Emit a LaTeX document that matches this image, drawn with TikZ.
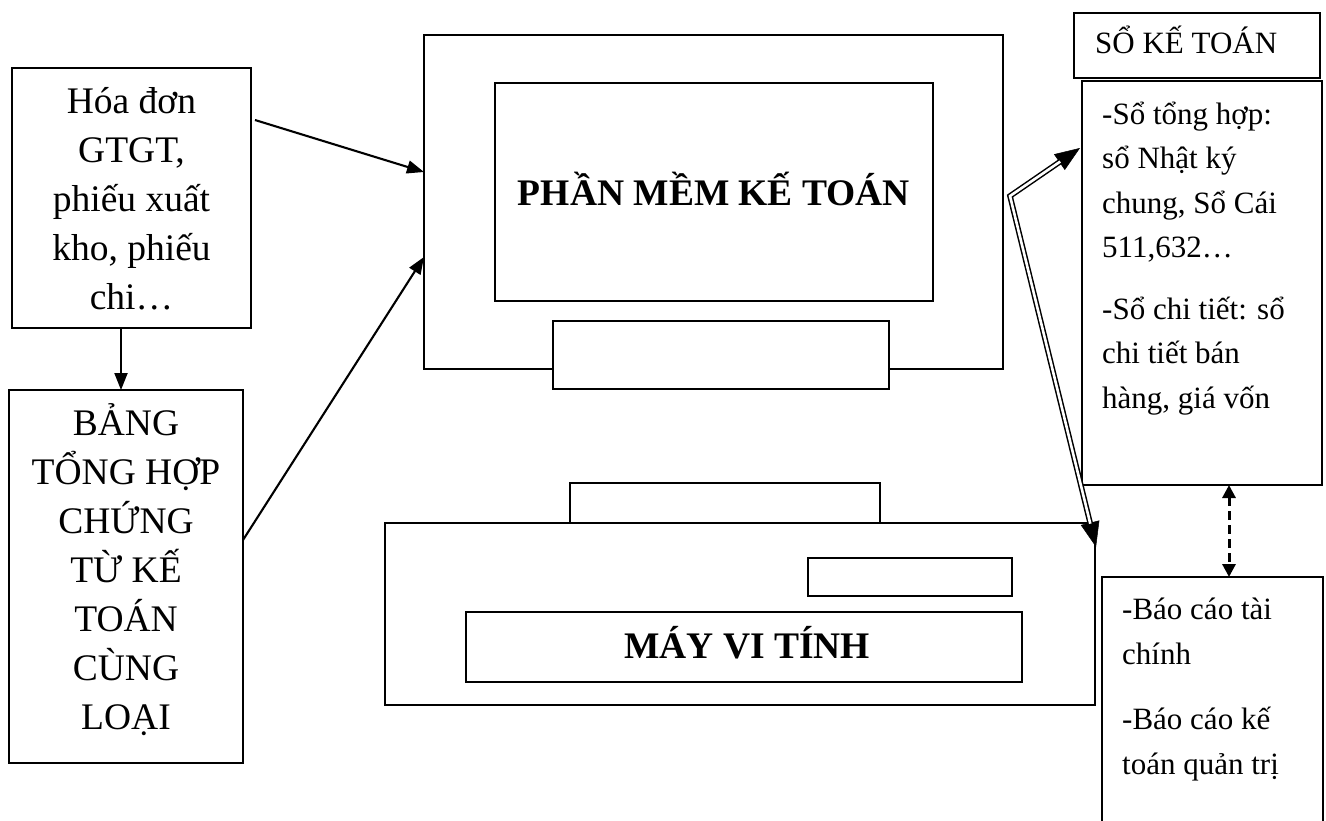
\documentclass[tikz,border=0pt]{standalone}
\usepackage{fontspec}
\setmainfont{Liberation Serif}
\usetikzlibrary{arrows.meta}
\begin{document}
\begin{tikzpicture}[x=1pt,y=-1pt,
  box/.style={draw, line width=1.2pt, fill=white, inner sep=0pt, outer sep=0pt, anchor=north west},
  bigtxt/.style={font=\fontsize{37.5}{49}\selectfont, align=center, inner sep=0pt},
  smalltxt/.style={font=\fontsize{31}{44.5}\selectfont, align=left, inner sep=0pt},
  reptxt/.style={font=\fontsize{31}{45}\selectfont, align=left, inner sep=0pt},
  headtxt/.style={font=\fontsize{31}{44}\selectfont, inner sep=0pt},
  titletxt/.style={font=\fontsize{37.5}{44}\selectfont\bfseries, inner sep=0pt},
  flow/.style={line width=2.1pt, -{Triangle[length=17pt,width=13pt]}},
  dbltip/.style={line width=0.5pt, {Triangle[length=25pt,width=19pt]}-{Triangle[length=25pt,width=19pt]}},
  dblline/.style={double, double distance=2.6pt, line width=1.5pt, line join=miter, shorten <=24pt, shorten >=24pt},
  dashlink/.style={line width=3pt, dash pattern=on 9pt off 5pt,
    {Triangle[length=13pt,width=13pt]}-{Triangle[length=13pt,width=13pt]}}]
\useasboundingbox (0,0) rectangle (1326,820);

% source documents (text nodes anchored on the baseline of their last line)
\node[box, minimum width=239pt, minimum height=260pt] (hd) at (12,68) {};
\node[bigtxt, anchor=base] (hdt) at (131.5,309) {Hóa đơn\\GTGT,\\phiếu xuất\\kho, phiếu\\chi…};
\node[box, minimum width=234pt, minimum height=373pt] (bang) at (9,390) {};
\node[bigtxt, anchor=base] (bangt) at (126,729) {BẢNG\\TỔNG HỢP\\CHỨNG\\TỪ KẾ\\TOÁN\\CÙNG\\LOẠI};

% monitor
\node[box, minimum width=579pt, minimum height=334pt] (mon) at (424,35) {};
\node[box, minimum width=438pt, minimum height=218pt] (scr) at (495,83) {};
\node[titletxt, anchor=base] (pm) at (714,205) {PHẦN MỀM KẾ TOÁN};
\node[box, minimum width=336pt, minimum height=68pt] (stand) at (553,321) {};

% computer case
\node[box, minimum width=310pt, minimum height=40pt] (tab) at (570,483) {};
\node[box, minimum width=710pt, minimum height=182pt] (case) at (385,523) {};
\node[box, minimum width=204pt, minimum height=38pt] (slot) at (808,558) {};
\node[box, minimum width=556pt, minimum height=70pt] (mvt) at (466,612) {};
\node[titletxt, anchor=base] (mvtt) at (747,658) {MÁY VI TÍNH};

% books and reports
\node[box, minimum width=246pt, minimum height=65pt] (head) at (1074,13) {};
\node[headtxt, anchor=base west] (headt) at (1095,53) {SỔ KẾ TOÁN};
\node[box, minimum width=240pt, minimum height=404pt] (cont) at (1082,81) {};
\node[smalltxt, anchor=base west] (contt) at (1102,408)
  {-Sổ tổng hợp:\\sổ Nhật ký\\chung, Sổ Cái\\511,632…\\[17pt]-Sổ chi tiết: sổ\\chi tiết bán\\hàng, giá vốn};
\node[box, minimum width=221pt, minimum height=260pt] (rep) at (1102,577) {};
\node[reptxt, anchor=base west] (rept) at (1122,774)
  {-Báo cáo tài\\chính\\[20pt]-Báo cáo kế\\toán quản trị};

% connectors
\coordinate (a1s) at (255,120);
\draw[flow] (a1s) -- (mon.west |- 0,172);
\draw[flow] (bang.east |- 0,540) -- (mon.west |- 0,257);
\draw[flow] (hd.south -| 121,0) -- (bang.north -| 121,0);

\coordinate (bend) at (1010,196);
\coordinate (lowtip) at (1096,547);
\draw[dbltip] ([xshift=-2pt]cont.west |- 0,148) -- (bend) -- (lowtip);
\draw[dblline] ([xshift=-2pt]cont.west |- 0,148) -- (bend) -- (lowtip);

\draw[dashlink] (cont.south -| 1229,0) -- (rep.north -| 1229,0);
\end{tikzpicture}
\end{document}
